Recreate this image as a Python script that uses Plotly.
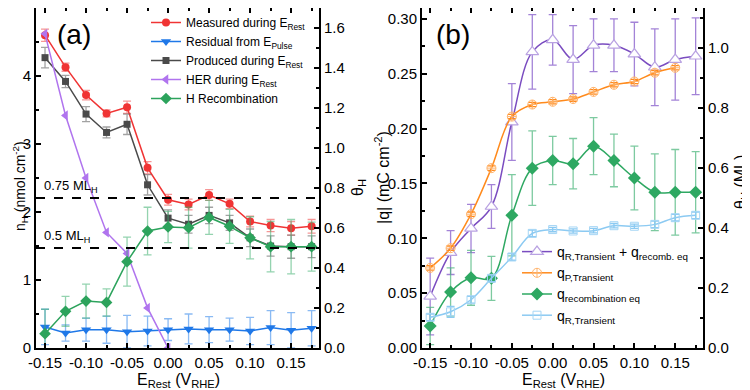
import plotly.graph_objects as go

# ---------------- data ----------------
E_rest = [-0.15, -0.125, -0.10, -0.075, -0.05, -0.025, 0.0, 0.025, 0.05, 0.075, 0.10, 0.125, 0.15, 0.175]

# panel (a)  n_H (nmol cm^-2)
measured = [4.60, 4.13, 3.72, 3.45, 3.54, 2.65, 2.18, 2.11, 2.25, 2.12, 1.86, 1.80, 1.76, 1.79]
measured_err = [0.09, 0.06, 0.07, 0.05, 0.09, 0.09, 0.08, 0.08, 0.08, 0.07, 0.08, 0.09, 0.10, 0.10]
residual = [0.31, 0.22, 0.27, 0.27, 0.24, 0.25, 0.27, 0.28, 0.27, 0.27, 0.25, 0.30, 0.26, 0.29]
residual_err = [0.26, 0.12, 0.17, 0.20, 0.24, 0.22, 0.16, 0.22, 0.19, 0.17, 0.20, 0.25, 0.26, 0.26]
produced = [4.27, 3.92, 3.44, 3.17, 3.29, 2.40, 1.91, 1.82, 1.95, 1.84, 1.62, 1.50, 1.49, 1.49]
produced_err = [0.15, 0.09, 0.11, 0.08, 0.15, 0.15, 0.12, 0.13, 0.12, 0.11, 0.13, 0.15, 0.17, 0.16]
her_E = [-0.15, -0.125, -0.10, -0.075, -0.05, -0.025, 0.0]
her = [4.62, 3.42, 2.50, 1.70, 1.39, 0.59, 0.0]
recomb = [0.21, 0.54, 0.69, 0.67, 1.27, 1.72, 1.78, 1.77, 1.92, 1.79, 1.62, 1.49, 1.49, 1.49]
recomb_err = [0.36, 0.22, 0.25, 0.20, 0.36, 0.35, 0.23, 0.30, 0.25, 0.25, 0.31, 0.37, 0.40, 0.36]
ml_levels = [0.75, 0.5]
ml_labels = ["0.75 ML<sub>H</sub>", "0.5 ML<sub>H</sub>"]

# panel (b)  |q| (mC cm^-2)
q_sum = [0.047, 0.087, 0.109, 0.129, 0.206, 0.270, 0.281, 0.263, 0.276, 0.276, 0.268, 0.256, 0.263, 0.266]
q_sum_err = [0.035, 0.020, 0.022, 0.020, 0.035, 0.034, 0.023, 0.031, 0.024, 0.024, 0.029, 0.035, 0.037, 0.035]
qP_E = [-0.15, -0.125, -0.10, -0.075, -0.05, -0.025, 0.0, 0.025, 0.05, 0.075, 0.10, 0.125, 0.15]
qP = [0.073, 0.091, 0.122, 0.164, 0.211, 0.222, 0.2245, 0.227, 0.2335, 0.240, 0.243, 0.251, 0.2555]
qP_err = [0.002, 0.002, 0.002, 0.002, 0.002, 0.002, 0.002, 0.002, 0.002, 0.002, 0.002, 0.002, 0.002]
q_rec = [0.020, 0.051, 0.064, 0.0635, 0.121, 0.164, 0.171, 0.168, 0.184, 0.171, 0.155, 0.142, 0.142, 0.142]
q_rec_err = [0.017, 0.022, 0.025, 0.020, 0.037, 0.034, 0.022, 0.023, 0.026, 0.024, 0.029, 0.035, 0.039, 0.037]
qR = [0.028, 0.033, 0.044, 0.0635, 0.083, 0.1045, 0.108, 0.1067, 0.107, 0.1115, 0.111, 0.1127, 0.1188, 0.121]
qR_err = [0.003, 0.005, 0.003, 0.003, 0.003, 0.003, 0.002, 0.002, 0.002, 0.002, 0.002, 0.003, 0.003, 0.003]

x_tickvals = [-0.15, -0.10, -0.05, 0.0, 0.05, 0.10, 0.15]
x_ticktext = ["-0.15", "-0.10", "-0.05", "0.00", "0.05", "0.10", "0.15"]

FONT = "Arial, Liberation Sans, sans-serif"
W, H, OFF = 750, 390, 8  # page body margin offset


def px(x):  # screen pixel -> paper x
    return (x - OFF) / W


def py(y):  # screen pixel -> paper y
    return 1 - (y - OFF) / H


fig = go.Figure()


def eb(arr, color):
    return dict(type="data", array=arr, visible=True, color=color, thickness=1.3, width=4)


# ---- panel (a) traces ----
fig.add_trace(go.Scatter(x=E_rest, y=measured, mode="lines+markers", name="Measured during E<sub>Rest</sub>",
                         line=dict(color="#f03434", width=1.5), marker=dict(symbol="circle", size=8, color="#f03434"),
                         error_y=eb(measured_err, "rgba(240,80,80,0.6)"), xaxis="x", yaxis="y", legend="legend"))
fig.add_trace(go.Scatter(x=E_rest, y=residual, mode="lines+markers", name="Residual from E<sub>Pulse</sub>",
                         line=dict(color="#1f78e8", width=1.5), marker=dict(symbol="triangle-down", size=9, color="#1f78e8"),
                         error_y=eb(residual_err, "rgba(60,140,235,0.6)"), xaxis="x", yaxis="y", legend="legend"))
fig.add_trace(go.Scatter(x=E_rest, y=produced, mode="lines+markers", name="Produced during E<sub>Rest</sub>",
                         line=dict(color="#4a4a4a", width=1.5), marker=dict(symbol="square", size=7, color="#4a4a4a"),
                         error_y=eb(produced_err, "rgba(100,100,100,0.6)"), xaxis="x", yaxis="y", legend="legend"))
fig.add_trace(go.Scatter(x=her_E, y=her, mode="lines+markers", name="HER during E<sub>Rest</sub>",
                         line=dict(color="#b074ee", width=1.5), marker=dict(symbol="triangle-left", size=9, color="#b074ee"),
                         xaxis="x", yaxis="y", legend="legend"))
fig.add_trace(go.Scatter(x=E_rest, y=recomb, mode="lines+markers", name="H Recombination",
                         line=dict(color="#2ca35c", width=1.5), marker=dict(symbol="diamond", size=9, color="#2ca35c"),
                         error_y=eb(recomb_err, "rgba(60,175,110,0.55)"), xaxis="x", yaxis="y", legend="legend"))
fig.add_trace(go.Scatter(x=[E_rest[0]], y=[ml_levels[0]], mode="markers", marker=dict(opacity=0),
                         showlegend=False, hoverinfo="skip", xaxis="x", yaxis="y3"))

# ---- panel (b) traces ----
fig.add_trace(go.Scatter(x=E_rest, y=q_sum, mode="lines+markers",
                         name="q<sub>R,Transient</sub> + q<sub>recomb. eq</sub>",
                         line=dict(color="#7a4cc0", width=1.5, shape="spline", smoothing=1.0),
                         marker=dict(symbol="triangle-up", size=11, color="white", line=dict(color="#b9a2e2", width=1.2)),
                         error_y=eb(q_sum_err, "rgba(140,100,205,0.8)"), xaxis="x2", yaxis="y2", legend="legend2"))
fig.add_trace(go.Scatter(x=qP_E, y=qP, mode="lines+markers", name="q<sub>P,Transient</sub>",
                         line=dict(color="#ff8a1c", width=1.5, shape="spline", smoothing=1.0),
                         marker=dict(symbol="circle-cross-open", size=9, color="#ffb36b", line=dict(width=1)),
                         error_y=eb(qP_err, "#ff8a1c"), xaxis="x2", yaxis="y2", legend="legend2"))
fig.add_trace(go.Scatter(x=E_rest, y=q_rec, mode="lines+markers", name="q<sub>recombination eq</sub>",
                         line=dict(color="#2ea862", width=1.5, shape="spline", smoothing=1.0),
                         marker=dict(symbol="diamond", size=10, color="#2ea862"),
                         error_y=eb(q_rec_err, "rgba(70,180,120,0.7)"), xaxis="x2", yaxis="y2", legend="legend2"))
fig.add_trace(go.Scatter(x=E_rest, y=qR, mode="lines+markers", name="q<sub>R,Transient</sub>",
                         line=dict(color="#8ccaf2", width=1.5, shape="spline", smoothing=1.0),
                         marker=dict(symbol="square-open", size=8, color="#a6d6f5", line=dict(width=1)),
                         error_y=eb(qR_err, "#8ccaf2"), xaxis="x2", yaxis="y2", legend="legend2"))
fig.add_trace(go.Scatter(x=[E_rest[0]], y=[0.5], mode="markers", marker=dict(opacity=0),
                         showlegend=False, hoverinfo="skip", xaxis="x2", yaxis="y4"))

# dashed ML lines (on theta axis of panel a)
for lvl, lab in zip(ml_levels, ml_labels):
    fig.add_shape(type="line", xref="x domain", yref="y3", x0=0, x1=1, y0=lvl, y1=lvl,
                  line=dict(color="black", width=2, dash="dash"))
    fig.add_annotation(xref="x domain", yref="y3", x=0.02, y=lvl, text=lab, showarrow=False,
                       xanchor="left", yanchor="bottom", yshift=1, font=dict(size=13, color="black", family=FONT))

# panel labels
fig.add_annotation(xref="paper", yref="paper", x=px(55), y=py(35), text="(a)", showarrow=False,
                   xanchor="left", yanchor="middle", font=dict(size=28, color="black", family=FONT))
fig.add_annotation(xref="paper", yref="paper", x=px(434), y=py(35), text="(b)", showarrow=False,
                   xanchor="left", yanchor="middle", font=dict(size=28, color="black", family=FONT))

# axis titles as annotations
titles = [
    ("n<sub>H</sub> (nmol cm<sup>-2</sup>)", 8, 186, -90, 14, "left"),
    ("θ<sub>H</sub>", 358, 188, -90, 16, "center"),
    ("|q| (mC cm<sup>-2</sup>)", 382, 178, -90, 16, "center"),
    ("θ<sub>H</sub> (ML)", 741, 182, -90, 16, "center"),
    ("E<sub>Rest</sub> (V<sub>RHE</sub>)", 178, 380, 0, 16, "center"),
    ("E<sub>Rest</sub> (V<sub>RHE</sub>)", 563, 380, 0, 16, "center"),
]
for txt, sx, sy, ang, fs, xa in titles:
    fig.add_annotation(xref="paper", yref="paper", x=px(sx), y=py(sy), text=txt, showarrow=False,
                       textangle=ang, xanchor=xa, yanchor="middle",
                       font=dict(size=fs, color="black", family=FONT))

common_axis = dict(showline=True, linecolor="black", linewidth=2, ticks="inside", ticklen=5, tickwidth=1.5,
                   tickcolor="black", showgrid=False, zeroline=False, automargin=False,
                   tickfont=dict(size=15, family=FONT, color="black"))

ydom = [py(348), py(8)]
minor_x = dict(ticks="inside", ticklen=3, tickcolor="black", dtick=0.025, tick0=0)

fig.update_layout(
    width=W, height=H, margin=dict(l=0, r=0, t=0, b=0),
    paper_bgcolor="white", plot_bgcolor="white",
    font=dict(family=FONT, color="black"),
    xaxis=dict(domain=[px(36), px(319)], range=[-0.161, 0.184], anchor="y", mirror="ticks",
               tickvals=x_tickvals, ticktext=x_ticktext, minor=minor_x, **common_axis),
    yaxis=dict(domain=ydom, range=[0, 5], anchor="x", dtick=1,
               minor=dict(ticks="inside", ticklen=3, tickcolor="black", dtick=0.5), **common_axis),
    yaxis3=dict(domain=ydom, range=[0, 1.7], anchor="x", overlaying="y", side="right", dtick=0.2, tickformat=".1f",
                minor=dict(ticks="inside", ticklen=3, tickcolor="black", dtick=0.1), **common_axis),
    xaxis2=dict(domain=[px(422), px(703)], range=[-0.16, 0.184], anchor="y2", mirror="ticks",
                tickvals=x_tickvals, ticktext=x_ticktext, minor=minor_x, **common_axis),
    yaxis2=dict(domain=ydom, range=[0, 0.31], anchor="x2", dtick=0.05, tickformat=".2f",
                minor=dict(ticks="inside", ticklen=3, tickcolor="black", dtick=0.025), **common_axis),
    yaxis4=dict(domain=ydom, range=[0, 1.1333], anchor="x2", overlaying="y2", side="right", dtick=0.2, tickformat=".1f",
                minor=dict(ticks="inside", ticklen=3, tickcolor="black", dtick=0.1), **common_axis),
    legend=dict(x=px(146), y=py(8), xanchor="left", yanchor="top", bgcolor="rgba(0,0,0,0)",
                font=dict(size=12, family=FONT, color="black"), tracegroupgap=0, itemwidth=30),
    legend2=dict(x=px(517), y=py(236), xanchor="left", yanchor="top", bgcolor="rgba(0,0,0,0)",
                 font=dict(size=14, family=FONT, color="black"), tracegroupgap=0, itemwidth=30),
    showlegend=True,
)

fig.write_html("out.html")
